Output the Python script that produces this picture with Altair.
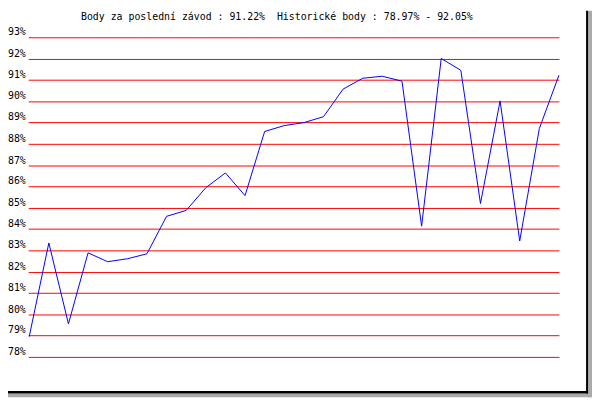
import altair as alt
import pandas as pd

# ---- data ----
title_text = "Body za poslední závod : 91.22% \u00a0Historické body : 78.97% - 92.05%"
race_index = list(range(28))
points = [78.97, 83.37, 79.59, 82.91, 82.49, 82.64, 82.87, 84.62, 84.88, 85.98,
          86.66, 85.61, 88.58, 88.89, 89.03, 89.30, 90.57, 91.08, 91.19, 90.98,
          84.17, 92.05, 91.45, 85.22, 90.04, 83.48, 88.74, 91.22]
grid_values = list(range(78, 94))
grid_labels = [f"{v}%" for v in grid_values]

FONT = "DejaVu Sans Mono"
W, H = 592, 392

xs = alt.Scale(domain=[0, 27], range=[21.5, 558.5], nice=False, zero=False)
ys = alt.Scale(domain=[78, 93], range=[351, 27], nice=False, zero=False, round=True)

line_df = pd.DataFrame({"i": race_index, "v": points})
grid_df = pd.DataFrame({"v": grid_values, "label": grid_labels})
one = pd.DataFrame({"a": [0]})

grid = alt.Chart(grid_df).mark_rule(color="#ff0000", strokeWidth=1, yOffset=0.5).encode(
    y=alt.Y("v:Q", scale=ys, axis=None),
    x=alt.value(21), x2=alt.value(559),
)

labels = alt.Chart(grid_df).mark_text(
    align="right", baseline="alphabetic", dy=-2,
    font=FONT, fontSize=10, color="#000000",
).encode(
    y=alt.Y("v:Q", scale=ys, axis=None),
    x=alt.value(18),
    text="label:N",
)

line = alt.Chart(line_df).mark_line(color="#0000ff", strokeWidth=1, yOffset=0.5).encode(
    x=alt.X("i:Q", scale=xs, axis=None),
    y=alt.Y("v:Q", scale=ys, axis=None),
)

title = alt.Chart(pd.DataFrame({"t": [title_text]})).mark_text(
    align="left", baseline="alphabetic", font=FONT, fontSize=10, color="#000000",
).encode(x=alt.value(74), y=alt.value(9), text="t:N")

# frame (right / bottom black border with grey drop shadow)
shadow_r = alt.Chart(one).mark_rect(color="#aaaaaa").encode(
    x=alt.value(588), x2=alt.value(592), y=alt.value(0), y2=alt.value(392))
shadow_b = alt.Chart(one).mark_rect(color="#aaaaaa").encode(
    x=alt.value(0), x2=alt.value(592), y=alt.value(388), y2=alt.value(392))
border_r = alt.Chart(one).mark_rect(color="#000000").encode(
    x=alt.value(586), x2=alt.value(588), y=alt.value(0), y2=alt.value(388))
border_b = alt.Chart(one).mark_rect(color="#000000").encode(
    x=alt.value(0), x2=alt.value(588), y=alt.value(385.5), y2=alt.value(388))

chart = alt.layer(
    shadow_r, shadow_b, border_r, border_b, grid, line, labels, title
).properties(
    width=W, height=H, autosize="none", padding=0, background="#ffffff"
).configure_view(stroke=None)

chart.save("out.html", embed_options={"renderer": "svg", "actions": False})
